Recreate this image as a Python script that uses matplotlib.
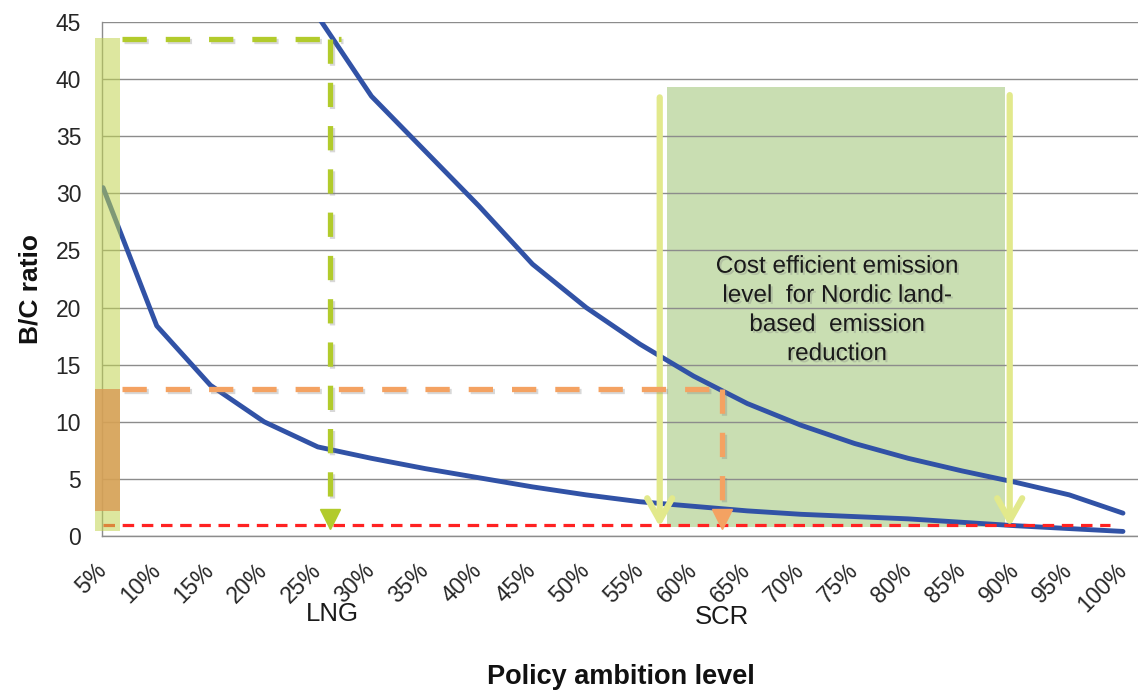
import numpy as np
import matplotlib.pyplot as plt
import matplotlib.patheffects as pe
from matplotlib.patches import Rectangle

plt.rcParams['font.family'] = ['Liberation Sans', 'DejaVu Sans']

# Policy ambition levels (x categories)
levels = ['5%', '10%', '15%', '20%', '25%', '30%', '35%', '40%', '45%', '50%',
          '55%', '60%', '65%', '70%', '75%', '80%', '85%', '90%', '95%', '100%']

# B/C ratio curves (upper curve runs off the top before 25%)
nan = np.nan
bc_upper = [nan, nan, nan, nan, 45.5, 38.5, 33.7, 28.9, 23.8, 20.0,
            16.8, 14.0, 11.6, 9.7, 8.1, 6.8, 5.7, 4.7, 3.6, 2.0]
bc_lower = [30.5, 18.4, 13.2, 10.0, 7.8, 6.8, 5.9, 5.1, 4.3, 3.6,
            3.0, 2.6, 2.2, 1.9, 1.7, 1.5, 1.2, 0.9, 0.65, 0.4]

# reference levels
break_even = 1.0
lng_bc = 43.5
scr_bc = 12.9
lng_pos = 4.23     # position of LNG on category axis
scr_pos = 11.53    # position of SCR on category axis
band_lo, band_hi = 10.5, 16.8   # cost efficient range (category axis)

blue = '#3152a6'
green = '#b2cb2c'
orange = '#f4a262'
yellow = '#e2e98c'

fig = plt.figure(figsize=(11.38, 6.9), dpi=100)
ax = fig.add_axes([102 / 1138, 154 / 690, 1036 / 1138, 514 / 690])
x = np.arange(len(levels))

ax.set_xlim(-0.02, 19.28)
ax.set_ylim(0, 45)
ax.set_yticks(range(0, 46, 5))
ax.set_axisbelow(True)
ax.yaxis.grid(True, color='#8c8c8c', lw=1)
for s in ['top', 'right']:
    ax.spines[s].set_visible(False)
for s in ['left', 'bottom']:
    ax.spines[s].set_color('#8c8c8c')
    ax.spines[s].set_linewidth(1)

ax.tick_params(axis='y', length=0, pad=15, labelsize=16.5, labelcolor='#262626')
ax.set_xticks(x, levels)
ax.tick_params(axis='x', length=0, pad=22, labelsize=16.5, labelcolor='#262626')
for lbl in ax.get_xticklabels():
    lbl.set_rotation(45)
    lbl.set_ha('right')
    lbl.set_va('center')
    lbl.set_rotation_mode('anchor')

shadow = [pe.SimpleLineShadow(offset=(1.5, -1.5), shadow_color='gray', alpha=0.3), pe.Normal()]

# cost efficient area
ax.add_patch(Rectangle((band_lo, 0.8), band_hi - band_lo, 38.5, facecolor='#c9deb2',
                       edgecolor='none', zorder=0.3))

# B/C curves
ax.plot(x, bc_upper, color=blue, lw=3.5, zorder=3, solid_capstyle='round')
ax.plot(x, bc_lower, color=blue, lw=3.5, zorder=3, solid_capstyle='round')

# break-even line
ax.plot([0, 18.75], [break_even, break_even], color='#ff2222', lw=2.3,
        ls=(0, (3.6, 2.4)), zorder=4)

# left bands
ax.add_patch(Rectangle((-0.15, 0.4), 0.47, lng_bc + 0.1 - 0.4, facecolor='#c1d550',
                       alpha=0.55, edgecolor='none', zorder=5, clip_on=False))
ax.add_patch(Rectangle((-0.15, 2.2), 0.47, scr_bc - 2.2, facecolor='#d99a55',
                       alpha=0.8, edgecolor='none', zorder=5, clip_on=False))

# LNG dashed guide
ax.plot([0.35, lng_pos + 0.2], [lng_bc, lng_bc], color=green, lw=3.8,
        ls=(0, (4.6, 3.6)), zorder=6, path_effects=shadow, clip_on=False)
ax.plot([lng_pos, lng_pos], [lng_bc, 2.0], color=green, lw=3.8,
        ls=(0, (4.6, 3.6)), zorder=6, path_effects=shadow)
ax.plot([lng_pos], [1.5], marker='v', ms=15, color=green, zorder=6)

# SCR dashed guide
ax.plot([0.35, scr_pos - 0.15], [scr_bc, scr_bc], color=orange, lw=3.8,
        ls=(0, (4.6, 3.6)), zorder=6, path_effects=shadow)
ax.plot([scr_pos, scr_pos], [scr_bc, 2.0], color=orange, lw=3.8,
        ls=(0, (4.6, 3.6)), zorder=6, path_effects=shadow)
ax.plot([scr_pos], [1.5], marker='v', ms=15, color=orange, zorder=6)

# range arrows
for xp, ytop in [(10.37, 38.4), (16.89, 38.6)]:
    ax.annotate('', xy=(xp, 0.8), xytext=(xp, ytop),
                arrowprops=dict(arrowstyle='->,head_length=1.6,head_width=0.9',
                                color=yellow, lw=4.5, shrinkA=0, shrinkB=0),
                zorder=5)

ax.text(13.67, 19.75, 'Cost efficient emission\nlevel  for Nordic land-\nbased  emission\nreduction',
        ha='center', va='center', fontsize=17.5, color='#1a1a1a', linespacing=1.42, zorder=7,
        path_effects=[pe.withSimplePatchShadow(offset=(1.5, -1.5), shadow_rgbFace='gray', alpha=0.3)])

ax.text(lng_pos + 0.05, -6.8, 'LNG', ha='center', va='center', fontsize=18.5,
        color='#1a1a1a', clip_on=False)
ax.text(scr_pos, -7.1, 'SCR', ha='center', va='center', fontsize=18.5,
        color='#1a1a1a', clip_on=False)

fig.text(30 / 1138, 1 - 289 / 690, 'B/C ratio', rotation=90, ha='center', va='center',
         fontsize=19, fontweight='bold', color='#111111')
fig.text(621 / 1138, 1 - 677 / 690, 'Policy ambition level', ha='center', va='center',
         fontsize=19.5, fontweight='bold', color='#111111')

fig.savefig('out.png', dpi=100)
